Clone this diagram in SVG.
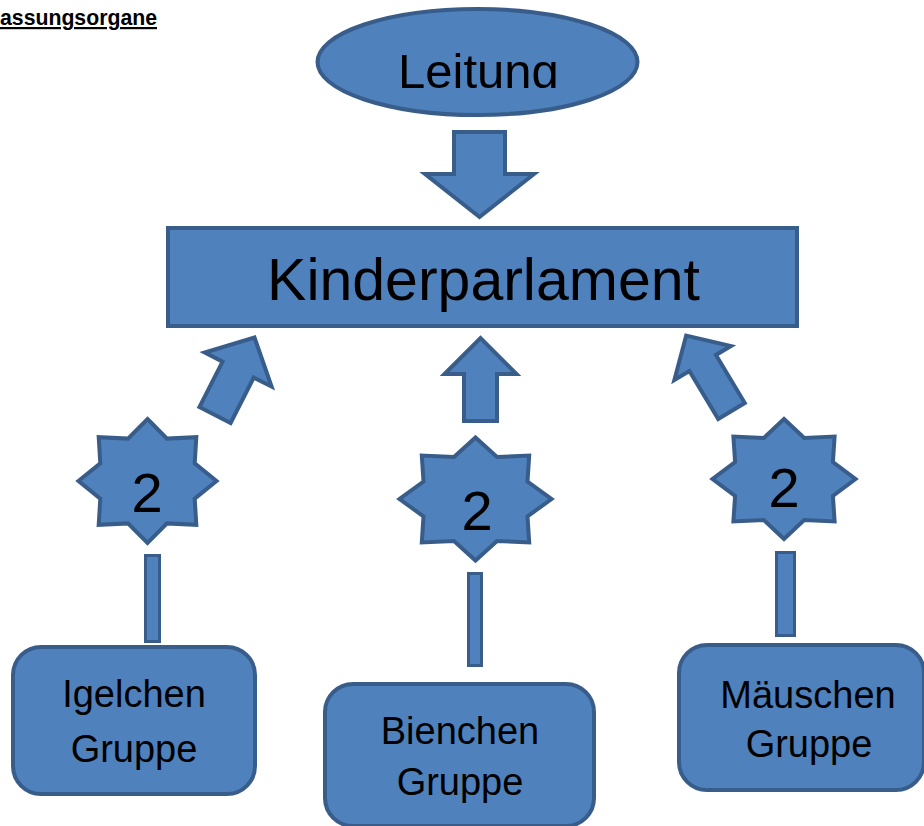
<svg xmlns="http://www.w3.org/2000/svg" width="924" height="826" viewBox="0 0 924 826">
<style>
.shape{fill:#4F81BD;stroke:#385D8A;stroke-width:4;stroke-linejoin:miter}
.bar{fill:#4F81BD;stroke:#385D8A;stroke-width:3}
.lbl{font-family:"Liberation Sans",Arial,sans-serif;fill:#000;text-anchor:middle}
.box{font-size:38px}
.num{font-size:56px}
</style>
<defs>
<clipPath id="leitClip"><rect x="300" y="0" width="360" height="88"/></clipPath>
</defs>
<rect width="924" height="826" fill="#fff"/>
<text x="0" y="25" font-family="'Liberation Sans',Arial,sans-serif" font-size="22" font-weight="bold" text-decoration="underline" fill="#000" textLength="157" lengthAdjust="spacingAndGlyphs">assungsorgane</text>

<g id="leitung">
<ellipse class="shape" cx="477.5" cy="62" rx="160" ry="53"/>
<text class="lbl" x="478.5" y="87.5" font-size="49" clip-path="url(#leitClip)">Leitung</text>
</g>

<g id="kinderparlament">
<rect class="shape" x="168" y="228" width="629" height="98"/>
<text class="lbl" x="483.5" y="300" font-size="59">Kinderparlament</text>
</g>

<g id="connectors">
<polygon class="shape" points="454,132 505,132 505,174 534,174 479.5,217 425,174 454,174"/>
<polygon class="shape" points="-17.5,0 17.5,0 17.5,-51 37.5,-51 0,-87 -37.5,-51 -17.5,-51" transform="translate(215,415) rotate(27)"/>
<polygon class="shape" points="-16.5,0 16.5,0 16.5,-47 36,-47 0,-83 -36,-47 -16.5,-47" transform="translate(480.5,421)"/>
<polygon class="shape" points="-15.5,0 15.5,0 15.5,-56 33,-56 0,-88 -33,-56 -15.5,-56" transform="translate(731.5,411) rotate(-31)"/>
<rect class="bar" x="145.5" y="555.5" width="14" height="86"/>
<rect class="bar" x="468.5" y="573.5" width="13" height="92"/>
<rect class="bar" x="776.5" y="552.5" width="18" height="83"/>
</g>

<g id="star-left">
<polygon class="shape" points="147.5,419 167,438.6 196.3,437.2 194.7,463.4 216.5,481 194.7,498.6 196.3,524.8 167,523.4 147.5,543 128,523.4 98.7,524.8 100.3,498.6 78.5,481 100.3,463.4 98.7,437.2 128,438.6"/>
<text class="lbl num" x="147" y="512">2</text>
</g>
<g id="star-middle">
<polygon class="shape" points="475.5,437.5 497,457 529.2,455.5 527.5,481.6 551.5,499 527.5,516.4 529.2,542.5 497,541 475.5,560.5 454,541 421.8,542.5 423.5,516.4 399.5,499 423.5,481.6 421.8,455.5 454,457"/>
<text class="lbl num" x="477" y="530">2</text>
</g>
<g id="star-right">
<polygon class="shape" points="784,419 804.2,438 834.6,436.6 832.9,462 855.5,479 832.9,496 834.6,521.4 804.2,520 784,539 763.8,520 733.4,521.4 735.1,496 712.5,479 735.1,462 733.4,436.6 763.8,438"/>
<text class="lbl num" x="784" y="507">2</text>
</g>

<g id="igelchen">
<rect class="shape" x="13" y="647" width="242" height="147" rx="28" ry="28"/>
<text class="lbl box" x="134" y="707">Igelchen</text>
<text class="lbl box" x="134" y="762">Gruppe</text>
</g>
<g id="bienchen">
<rect class="shape" x="325" y="684" width="269" height="142" rx="28" ry="28"/>
<text class="lbl box" x="460" y="744">Bienchen</text>
<text class="lbl box" x="460" y="795">Gruppe</text>
</g>
<g id="maeuschen">
<rect class="shape" x="679" y="645" width="245" height="145" rx="28" ry="28"/>
<text class="lbl box" x="808" y="708">Mäuschen</text>
<text class="lbl box" x="809" y="757">Gruppe</text>
</g>
</svg>
